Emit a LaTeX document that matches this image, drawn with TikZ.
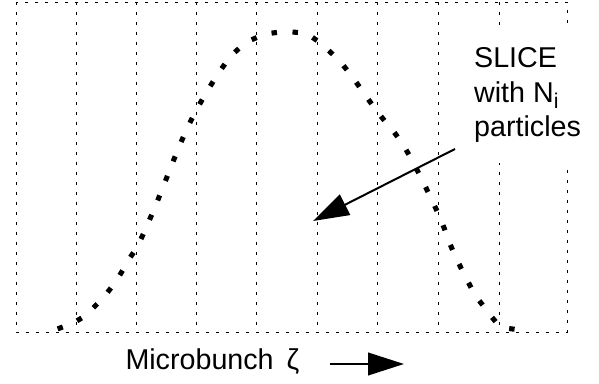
\documentclass[tikz,border=0pt]{standalone}
\usepackage{fontspec}
\setmainfont{Liberation Sans}
\usetikzlibrary{arrows.meta}
\tikzset{every picture/.style={line width=0.75pt}}
\tikzset{
  gridline/.style={line width=0.6pt, dash pattern={on 2pt off 5.5pt}},
  bunchdots/.style={line width=3.8pt, line cap=rect, dash pattern={on 0.3pt off 15.45pt}},
  bigarrow/.style={line width=1.5pt, -{Triangle[length=27pt,width=17pt]}},
  labeltext/.style={font=\fontsize{21.5}{26}\selectfont, inner sep=0pt}
}

\begin{document}
\begin{tikzpicture}[x=0.75pt,y=0.75pt,yscale=-1,xscale=1]
    \useasboundingbox (0,0) rectangle (599,384);

    %Slice grid
    \draw [gridline] (16,2) rectangle (567,332);
    \foreach \x in {76,136,196,256,317,377,438,499}
      \draw [gridline] (\x,2) -- (\x,332);

    %Microbunch profile
    \draw [bunchdots] plot [smooth, tension=0.6] coordinates {(60,328) (80,319) (100,301) (116,281) (128,261) (140,241) (157,202) (182,140) (202,100) (228,60) (248,42) (268,34) (288,32) (308,35) (328,50) (347,70) (376,110) (405,148) (437,211) (453,251) (473,291) (486,309) (501,326) (524,330)};

    % Text Node
    \node (slice) [labeltext, anchor=north west, align=left, fill=white, inner xsep=8pt, inner ysep=15pt] at (463,27) {SLICE\\with N\raisebox{-5pt}{\fontsize{16}{16}\selectfont i}\\particles};
    % Text Node
    \node (axislabel) [labeltext, anchor=base west] at (125,369) {Microbunch\hspace{0.45em}ζ};

    \coordinate (slicetail) at (455,149);
    \coordinate (slicetip) at (313,221);
    \coordinate (axtail) at (330,364);
    \coordinate (axtip) at (404,364);

    \draw [bigarrow] (slicetail) -- (slicetip);
    \draw [bigarrow] (axtail) -- (axtip);
\end{tikzpicture}
\end{document}
